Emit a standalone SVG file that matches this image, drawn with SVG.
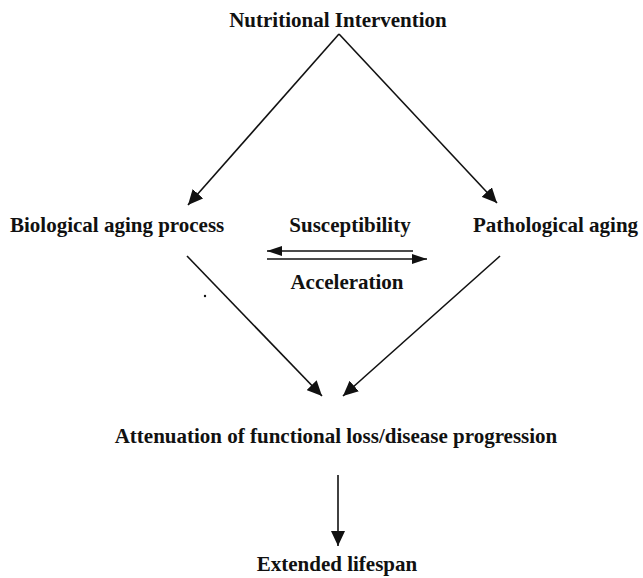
<svg xmlns="http://www.w3.org/2000/svg" width="643" height="578" viewBox="0 0 643 578">
<defs>
<style>
.t{font-family:"Liberation Serif","Times New Roman",serif;font-weight:bold;font-size:21px;fill:#111;}
.c{stroke:#111;stroke-width:1.6;fill:none;}
</style>
<marker id="ah" markerUnits="userSpaceOnUse" markerWidth="16" markerHeight="14" refX="15" refY="7" orient="auto">
<path d="M0,0 L15,7 L0,14 Z" fill="#111"/>
</marker>
<marker id="ahs" markerUnits="userSpaceOnUse" markerWidth="16" markerHeight="10" refX="15" refY="5" orient="auto">
<path d="M0,0 L15,5 L0,10 Z" fill="#111"/>
</marker>
</defs>
<rect width="643" height="578" fill="#fff"/>
<g id="connectors">
<path class="c" d="M339,34 L188,205" marker-end="url(#ah)"/>
<path class="c" d="M339,34 L497,203" marker-end="url(#ah)"/>
<path class="c" d="M413,251 L267,251" marker-end="url(#ahs)"/>
<path class="c" d="M267,259 L427,259" marker-end="url(#ahs)"/>
<path class="c" d="M187,256 L322,396" marker-end="url(#ah)"/>
<path class="c" d="M500,256 L343,396" marker-end="url(#ah)"/>
<path class="c" d="M338,475 L338,546" marker-end="url(#ah)"/>
</g>
<g id="nutritional"><text class="t" x="338" y="27" text-anchor="middle">Nutritional Intervention</text></g>
<g id="biological"><text class="t" x="10" y="232">Biological aging process</text></g>
<g id="pathological"><text class="t" x="473" y="232">Pathological aging</text></g>
<g id="susceptibility"><text class="t" x="350" y="232" text-anchor="middle">Susceptibility</text></g>
<g id="acceleration"><text class="t" x="347" y="289" text-anchor="middle">Acceleration</text></g>
<g id="attenuation"><text class="t" x="336" y="443" text-anchor="middle">Attenuation of functional loss/disease progression</text></g>
<g id="lifespan"><text class="t" x="337" y="571" text-anchor="middle">Extended lifespan</text></g>
<circle cx="205" cy="296" r="1.2" fill="#111"/>
</svg>
